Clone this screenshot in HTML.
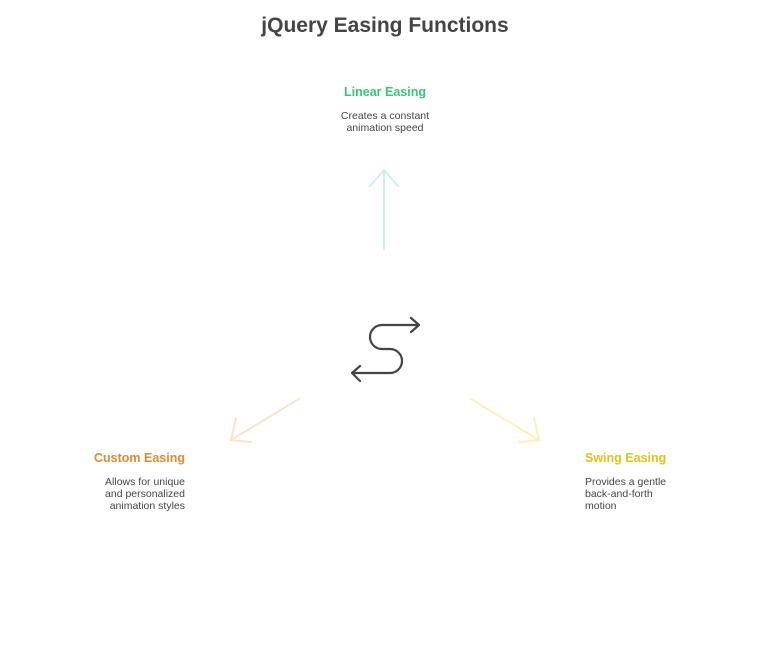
<!DOCTYPE html>
<html><head><meta charset="utf-8"><style>
body{margin:0;width:770px;height:650px;background:#fff;position:relative;font-family:"Liberation Sans",sans-serif;overflow:hidden}
.t{position:absolute;white-space:nowrap}
.h{font-weight:bold;font-size:12.5px}
.d{font-size:10.5px;color:#444;line-height:12px}
</style></head><body>
<div class="t" style="left:0;width:770px;top:14px;text-align:center;font-size:21px;font-weight:bold;color:#444">jQuery Easing Functions</div>
<div class="t h" style="left:300px;width:170px;text-align:center;top:85px;color:#3cc37a">Linear Easing</div>
<div class="t d" style="left:300px;width:170px;text-align:center;top:110px">Creates a constant<br>animation speed</div>
<div class="t h" style="left:40px;width:145px;text-align:right;top:451px;color:#e08a33">Custom Easing</div>
<div class="t d" style="left:40px;width:145px;text-align:right;top:476px">Allows for unique<br>and personalized<br>animation styles</div>
<div class="t h" style="left:585px;top:451px;color:#ddc21a">Swing Easing</div>
<div class="t d" style="left:585px;top:476px">Provides a gentle<br>back-and-forth<br>motion</div>
<svg width="770" height="650" style="position:absolute;left:0;top:0" fill="none" stroke-linecap="round" stroke-linejoin="round">
<g stroke="#c8f5e2" stroke-width="2"><path d="M384,249 V170 M370,186 L384,170 L398,186"/></g>
<g stroke="#fde2cc" stroke-width="2"><path d="M299,399 L231,440 M236,418 L231,440 L251,442"/></g>
<g stroke="#fdf1b8" stroke-width="2"><path d="M471,399 L539,440 M534,418 L539,440 L519,442"/></g>
<g stroke="#444" stroke-width="2.2"><path d="M419,325 H382 A12,12 0 0 0 382,349 H390 A12,12 0 0 1 390,373 H352 M411,318 L419,325 L411,332 M360,366 L352,373 L360,381"/></g>
</svg>
</body></html>
